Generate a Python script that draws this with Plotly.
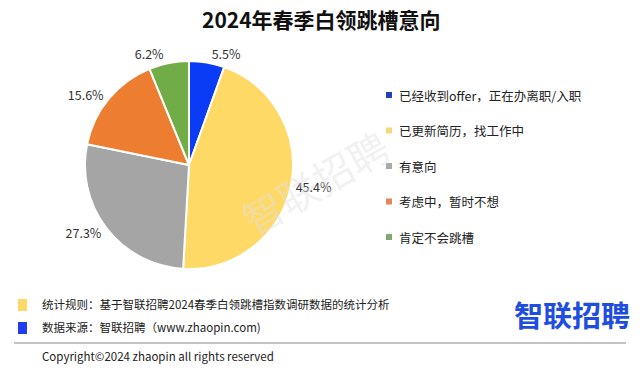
import plotly.graph_objects as go

title = "2024年春季白领跳槽意向"
labels = ["已经收到offer，正在办离职/入职", "已更新简历，找工作中", "有意向", "考虑中，暂时不想", "肯定不会跳槽"]
values = [5.5, 45.4, 27.3, 15.6, 6.2]
colors = ["#0A3CF5", "#FFD966", "#A5A5A5", "#ED7D31", "#70AD47"]
legend_colors = ["#2340B8", "#F7D77A", "#A9A9A9", "#E0885A", "#7FA86A"]
note_rule = "统计规则：基于智联招聘2024春季白领跳槽指数调研数据的统计分析"
note_src = "数据来源：智联招聘（www.zhaopin.com)"
copyright_txt = "Copyright©2024 zhaopin all rights reserved"
logo = "智联招聘"

W, H = 640, 370
FONT = "Noto Sans CJK SC"


def px(x):
    return x / W


def py(y):
    return 1 - y / H


fig = go.Figure()
cx, cy, r = 189, 165, 104
fig.add_trace(go.Pie(
    labels=labels, values=values, sort=False, direction="clockwise", rotation=0,
    marker=dict(colors=colors, line=dict(color="white", width=2)),
    textposition="outside", texttemplate="%{value:.1f}%",
    textfont=dict(family=FONT, size=12.5, color="#333333"),
    domain=dict(x=[px(cx - r), px(cx + r)], y=[py(cy + r), py(cy - r)]),
    showlegend=False, hoverinfo="label+value",
))


def ann(text, x, y, size, color="#222222", xanchor="left", angle=0):
    return dict(text=text, x=px(x), y=py(y), xref="paper", yref="paper", showarrow=False,
                xanchor=xanchor, yanchor="middle", textangle=angle,
                font=dict(family=FONT, size=size, color=color))


annotations = [
    ann("<b>" + title + "</b>", 321, 19, 21, "#111111", "center"),
    ann("<b>" + logo + "</b>", 572, 314, 29, "#1F4DE0", "center"),
    ann(logo, 315, 182, 40, "rgba(225,225,225,0.45)", "center", -30),
    ann(note_rule, 40, 304, 11.5),
    ann(note_src, 40, 327, 11.5),
    ann(copyright_txt, 40, 356, 11.5),
]
shapes = [
    dict(type="rect", xref="paper", yref="paper", x0=px(18), x1=px(27), y0=py(311), y1=py(299),
         fillcolor="#FFD966", line=dict(width=0)),
    dict(type="rect", xref="paper", yref="paper", x0=px(18), x1=px(27), y0=py(334), y1=py(322),
         fillcolor="#1F3CF0", line=dict(width=0)),
    dict(type="line", xref="paper", yref="paper", x0=px(14), x1=px(626), y0=py(343), y1=py(343),
         line=dict(color="#888888", width=1)),
]
# legend built from labels/colors
for i, (lab, col) in enumerate(zip(labels, legend_colors)):
    yy = 95 + i * 35.5
    shapes.append(dict(type="rect", xref="paper", yref="paper", x0=px(386), x1=px(392),
                       y0=py(yy + 3), y1=py(yy - 3), fillcolor=col, line=dict(width=0)))
    annotations.append(ann(lab, 397, yy, 12.5))

fig.update_layout(width=W, height=H, margin=dict(l=0, r=0, t=0, b=0),
                  paper_bgcolor="white", plot_bgcolor="white",
                  annotations=annotations, shapes=shapes)
fig.write_html("out.html", config={"displayModeBar": False},
               post_script="document.body.style.margin='0';")
